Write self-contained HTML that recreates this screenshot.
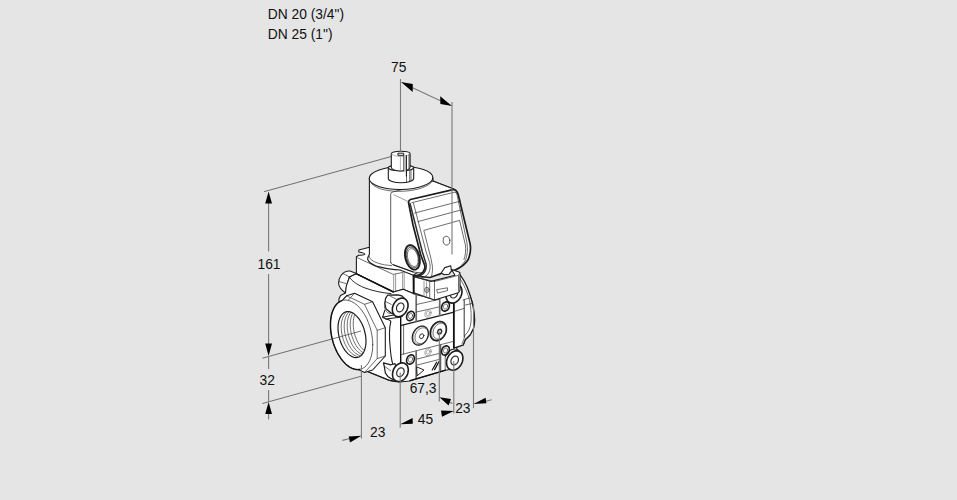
<!DOCTYPE html>
<html><head><meta charset="utf-8"><title>DN 20 / DN 25</title>
<style>
html,body{margin:0;padding:0;background:#e5e5e5;overflow:hidden}
svg{display:block}
text{font-family:"Liberation Sans",Arial,sans-serif;font-size:13.8px;fill:#111}
.d{stroke:#7a7a7a;stroke-width:1.1;fill:none}
.e{stroke:#3a3a3a;stroke-width:.7;fill:none}
.a{fill:#000;stroke:none}
#valve path,#valve ellipse{stroke-linejoin:round;stroke-linecap:round}
.k{fill:#fff;stroke:#1c1c1c;stroke-width:1.1}
.k2{fill:none;stroke:#1c1c1c;stroke-width:1.1}
.nf{fill:none;stroke:#2e2e2e;stroke-width:.7}
.gf{fill:none;stroke:#909090;stroke-width:.9}
.g2{fill:none;stroke:#6a6a6a;stroke-width:1.7}
.tf{fill:none;stroke:#111;stroke-width:1.4}
</style></head><body>
<svg width="957" height="500" viewBox="0 0 957 500">
<rect width="957" height="500" fill="#e5e5e5"/>
<text x="267.8" y="18.9">DN 20 (3/4")</text>
<text x="267.8" y="38.7">DN 25 (1")</text>
<g id="dimsback">
<path class="e" d="M264 191.7L391.6 156.4M262.4 403.5L362 376"/>
</g>
<g id="valve">
<path class="k" d="M358.8 250L369.4 247.2 L413 262 L413.3 293.6 L403.2 289.2 L393.4 292 L356.4 273.8 V256.8 L358.8 255.2 L360.4 255.2 C363 255 364.8 254.8 364.8 254.2 C364.8 253.4 362.5 252.6 358.8 252Z"/>
<path class="nf" d="M357.6 257.8 L393.2 274.4 L403.2 272.4"/>
<path class="gf" d="M393.7 274.4V291.5M395.6 274V291M402.6 272.6V289.2M404.2 272.4V289.6"/>
<path class="k" d="M356.5 273.5 L350 271 C346 270.8 343 272.5 341 275.5 C339.2 278 338.4 281 338.6 283.5 C339 287 340.5 289.5 345.5 293 L349.5 277Z"/>
<path class="nf" d="M349.5 277 C347.5 281 346 287 345.5 293"/>
<path class="nf" d="M343 273.5L349.5 277M339 281.5L345.8 283.5"/>
<path class="k" d="M369.4 178 V254.4 C368.4 256 367.6 257.6 367.6 259.2 C368.4 261.4 372 264.5 377.2 266.4 C383 268 390 269.2 394.8 269.6 L400 270 L413.3 275.3 L433 262 V178Z"/>
<path class="nf" d="M369.2 256.4 C369.6 258 370 258.6 370.8 259.2 C373 261.5 378 263.6 384.4 264.8 L391.6 265.6"/>
<path class="k" style="stroke:#4a4a4a;stroke-width:0.9" d="M390.7 262.4 V194.2 Q390.6 192 393.4 191.8 L408 188 L433 181 L453.9 189 L460 200 L440 275 L413.3 272 L393.2 264.8 Q391 264.2 390.7 262.4Z"/>
<path class="k2" d="M433 181L453.9 189"/>
<path class="k2" d="M393.2 264.8L413.3 272"/>
<path class="gf" d="M394 194.9L408.5 201.7"/>
<ellipse class="k" cx="401" cy="178" rx="31.8" ry="11.5" transform="rotate(-1 401 178)"/>
<path class="nf" d="M371.5 183.6 C377 189.6 390 192 404 191.2 C418 190.4 429 186.4 432.6 181"/>
<path class="k" d="M388.3 167.8 V178.6 A12.7 4.2 0 0 0 413.7 178.6 V167.8Z"/>
<ellipse class="k" cx="401" cy="167.8" rx="12.7" ry="3"/>
<path class="nf" d="M406.5 171V181.6M409.7 171V181.2M411 170.6V180.6"/>
<path class="k" d="M391.3 153.8 V167.2 A9.4 3.8 0 0 0 410.1 167.2 V153.6 A9.4 2.4 0 0 0 391.3 153.8Z"/>
<path class="gf" style="stroke-width:0.7" d="M391.3 153.8 A9.4 2.7 0 0 0 410.1 153.6"/>
<path style="fill:#cdcdcd;stroke:none" d="M404 156.2H406.2V171H404Z"/>
<path class="gf" style="stroke-width:0.7" d="M400.4 157V170.8"/>
<path class="nf" style="stroke-width:0.8" d="M403.7 155.4V170.8M409 154.6V168.6"/>
<path class="k2" d="M406.4 155.6V176"/>
<path class="k2" style="stroke-width:1" d="M398.3 153.2H403.7V155.3H398.3Z"/>
<path class="k" style="stroke-width:1.9" d="M419.8 260.9 L419.8 259.4 L419.6 257.8 L419.3 256.2 L418.8 254.6 L418.3 253.1 L417.7 251.6 L416.9 250.3 L416.1 249 L415.2 247.9 L414.3 247 L413.4 246.3 L412.4 245.7 L411.4 245.3 L410.5 245.2 L409.6 245.2 L408.7 245.5 L407.9 246 L407.1 246.6 L406.5 247.5 L406 248.5 L405.5 249.7 L405.2 251 L405 252.4 L405 253.9 L405 255.4 L405.2 257 L405.5 258.6 L406 260.2 L406.5 261.7 L407.1 263.2 L407.9 264.5 L408.7 265.8 L409.6 266.9 L410.5 267.8 L411.4 268.5 L412.4 269.1 L413.4 269.5 L414.3 269.6 L415.2 269.6 L416.1 269.3 L416.9 268.8 L417.7 268.2 L418.3 267.3 L418.8 266.3 L419.3 265.1 L419.6 263.8 L419.8 262.4 L419.8 260.9Z"/>
<path class="nf" style="stroke-width:0.9" d="M418.9 260.5 L418.8 259.2 L418.7 257.8 L418.4 256.5 L418 255.1 L417.6 253.8 L417 252.6 L416.4 251.5 L415.7 250.4 L415 249.5 L414.2 248.7 L413.4 248.1 L412.6 247.6 L411.8 247.3 L411 247.2 L410.2 247.2 L409.5 247.4 L408.8 247.8 L408.2 248.4 L407.6 249.1 L407.2 250 L406.8 251 L406.5 252.1 L406.4 253.3 L406.3 254.5 L406.4 255.8 L406.5 257.2 L406.8 258.5 L407.2 259.9 L407.6 261.2 L408.2 262.4 L408.8 263.5 L409.5 264.6 L410.2 265.5 L411 266.3 L411.8 266.9 L412.6 267.4 L413.4 267.7 L414.2 267.8 L415 267.8 L415.7 267.6 L416.4 267.2 L417 266.6 L417.6 265.9 L418 265 L418.4 264 L418.7 262.9 L418.8 261.7 L418.9 260.5Z"/>
<path class="nf" d="M418.2 260.2 L418.2 259 L418 257.9 L417.8 256.7 L417.5 255.6 L417.1 254.4 L416.6 253.4 L416.1 252.4 L415.5 251.5 L414.9 250.7 L414.2 250 L413.5 249.5 L412.8 249.1 L412.1 248.8 L411.4 248.7 L410.7 248.8 L410.1 249 L409.5 249.3 L409 249.8 L408.5 250.4 L408.1 251.1 L407.8 252 L407.6 252.9 L407.4 254 L407.4 255.1 L407.4 256.2 L407.6 257.3 L407.8 258.5 L408.1 259.6 L408.5 260.8 L409 261.8 L409.5 262.8 L410.1 263.7 L410.7 264.5 L411.4 265.2 L412.1 265.7 L412.8 266.1 L413.5 266.4 L414.2 266.5 L414.9 266.4 L415.5 266.2 L416.1 265.9 L416.6 265.4 L417.1 264.8 L417.5 264.1 L417.8 263.2 L418 262.3 L418.2 261.2 L418.2 260.2Z"/>
<path class="k" style="stroke-width:1.7" d="M408.5 202.5 Q408.6 200.2 410.4 199.5 L453 189.7 Q456.6 189.2 458.3 195 L469.9 243 C471.3 249 470.5 254 468.1 259.8 C465.5 264 461 267.5 455 270 L441 273.5 L430 277.5 L420 276.5 L413.6 276 C418 275.8 422 273.5 423.2 271.8 C425.2 268.5 425.2 266 424.4 264.6 L420.8 255 L413 225Z"/>
<path class="nf" style="stroke-width:1.5" d="M410 203.4 L422.4 252 L425.8 263 C426.8 267 425.8 271 422.8 274 C420.8 275.8 418.6 276.4 416.6 276.6"/>
<path class="nf" d="M411.7 202.7 L454.5 192.2 Q456.4 192.2 457 194.5 L467 243 C468 250 467.2 255 465.7 259.8 C464.5 262 463 264 461.5 265.2"/>
<path class="nf" d="M413.4 203 L426.2 252 L429.6 262.5 C430.8 267 430.2 271.5 427.6 274.5 C425.6 276.5 423.6 277.4 421.6 277.6"/>
<path class="nf" d="M414.8 213L458.6 201.6M418 221.6L460.8 210"/>
<path class="nf" d="M431.5 276.5 C432.6 272 432.8 268 432.2 265 L431 258.6 L423.8 230.4 L459.6 220.4 L465.4 245 C466 250 465.6 255 464 259.5"/>
<ellipse class="nf" cx="446.5" cy="240.6" rx="3.4" ry="4.5" transform="rotate(-8 446.5 240.6)"/>
<path class="k" d="M441.2 273 L444.8 267.6 L450.8 265.8 L451.4 271.2 L449 274.2 L444.2 274.8Z"/>
<path class="k" d="M345.5 293 L346.3 286 L349.5 277 L356.4 273.8 L393.4 292 L403.2 289.2 L413.3 293.6 L435.4 299.6 L459 291.5 L459.3 279.4 L466.9 287.6 L472.6 303 L474.6 320 L471.9 331.4 L470 335 L465.2 339.8 L463.2 345 L456.4 347.4 L458 352 L462 361 L458 368 L445.5 370.2 L409.6 381 L400 382 L389.6 380.4 L365.6 370.8 L352 368 L340 330 L338.9 299 L340.5 295.5Z"/>
<path class="k" style="stroke-width:1.3" d="M453.6 300 L456 271 C461 275 466 282 470 295 C472.6 303 474.6 312 474.6 320 C474.6 326 473.5 329.5 471.9 331.4 C471 333.5 470.5 334.5 470 335 L465.2 339.8 L463.2 345 L453.6 348Z"/>
<path class="nf" d="M459.5 278 C462 281 466 289 469 298 C470.6 304 471.6 314 471 322 C470.4 328 468.5 332 465 335.2 C464 339 463 342 461.8 344"/>
<path class="k2" style="stroke-width:0.9" d="M464.2 300V337"/>
<path class="nf" d="M463 300L469.5 298M465.5 305L472 303.5"/>
<path class="nf" d="M453.6 311.6L464.2 308.4"/>
<path class="k2" style="stroke-width:0.95" d="M349.5 277 C351 280.5 357 284.6 364 287.6 C373 291 383 293 391 293.6"/>
<path class="tf" d="M356.4 273.8L393.4 292"/>
<path class="k2" d="M386 319 C389 319.6 390.6 320.4 390.8 321.6 C389.2 328 389.2 338 390.2 348 C390.8 355 391.6 360 392.6 363.6"/>
<path class="k2" d="M365.6 370.8L389.6 380.4L396 381.8"/>
<path class="k" d="M333.8 309.8 L346.5 295.8 L354.6 293.2 L372.6 301.7 L385.3 327.7 L385.3 356 L372.6 370 L364.5 372.6 L346.5 364.1 L333.8 338.1Z"/>
<path class="nf" d="M346.5 295.8 L364.5 304.3 L377.2 330.3 L377.2 358.6 L364.5 372.6"/>
<path class="nf" d="M364.5 304.3 L372.6 301.7M377.2 330.3 L385.3 327.7M377.2 358.6 L385.3 356"/>
<path class="nf" d="M346.5 295.8 L333.8 309.8M333.8 309.8 L341.9 307.2M341.9 307.2 L354.6 293.2"/>
<path class="k" style="stroke-width:0.7" d="M372.7 344.8 L372.6 340.4 L372 335.8 L371.1 331.3 L369.9 326.8 L368.4 322.5 L366.6 318.3 L364.5 314.5 L362.2 311 L359.7 307.9 L357.1 305.2 L354.4 303.1 L351.6 301.5 L348.8 300.5 L346.1 300 L343.5 300.2 L341 301 L338.7 302.3 L336.6 304.2 L334.8 306.6 L333.3 309.5 L332.1 312.8 L331.2 316.5 L330.6 320.5 L330.5 324.8 L330.6 329.2 L331.2 333.8 L332.1 338.3 L333.3 342.8 L334.8 347.1 L336.6 351.3 L338.7 355.1 L341 358.6 L343.5 361.7 L346.1 364.4 L348.8 366.5 L351.6 368.1 L354.4 369.1 L357.1 369.6 L359.7 369.4 L362.2 368.6 L364.5 367.3 L366.6 365.4 L368.4 363 L369.9 360.1 L371.1 356.8 L372 353.1 L372.6 349.1 L372.7 344.8Z"/>
<path class="tf" d="M341.7 300.7 L340.7 301.1 L339.8 301.6 L339 302.1 L338.1 302.8 L337.3 303.5 L336.5 304.3 L335.8 305.2 L335.1 306.1 L334.5 307.2 L333.9 308.3 L333.3 309.5 L332.8 310.7 L332.3 312 L331.9 313.3 L331.5 314.8 L331.2 316.2 L331 317.7 L330.8 319.3 L330.6 320.9 L330.5 322.5 L330.5 324.2 L330.5 325.9 L330.5 327.6 L330.6 329.3 L330.8 331 L331 332.8 L331.3 334.6 L331.6 336.3 L332 338.1 L332.4 339.8 L332.9 341.6 L333.4 343.3 L334 345 L334.6 346.6 L335.3 348.3 L336 349.9 L336.7 351.4 L337.5 353 L338.3 354.4 L339.2 355.9 L340.1 357.2 L341 358.6 L341.9 359.8 L342.9 361 L343.9 362.1 L344.9 363.2 L345.9 364.2 L346.9 365.1 L348 365.9 L349 366.6 L350.1 367.3 L351.2 367.9 L352.2 368.4 L353.3 368.8 L354.4 369.1 L355.4 369.4 L356.5 369.5 L357.5 369.6 L358.5 369.5 L359.5 369.4"/>
<path class="k" style="stroke-width:1.2" d="M366 341.2 L365.9 338.3 L365.5 335.3 L364.9 332.3 L364.1 329.3 L363.1 326.4 L361.9 323.7 L360.5 321.2 L359 318.8 L357.3 316.8 L355.6 315.1 L353.8 313.6 L352 312.6 L350.2 311.9 L348.4 311.6 L346.7 311.7 L345 312.2 L343.5 313.1 L342.1 314.4 L340.9 316 L339.9 317.9 L339.1 320.1 L338.5 322.5 L338.1 325.2 L338 328 L338.1 330.9 L338.5 333.9 L339.1 336.9 L339.9 339.9 L340.9 342.8 L342.1 345.5 L343.5 348 L345 350.4 L346.7 352.4 L348.4 354.1 L350.2 355.6 L352 356.6 L353.8 357.3 L355.6 357.6 L357.3 357.5 L359 357 L360.5 356.1 L361.9 354.8 L363.1 353.2 L364.1 351.3 L364.9 349.1 L365.5 346.7 L365.9 344 L366 341.2Z"/>
<clipPath id="hole"><path d="M365.7 341.1 L365.6 338.2 L365.2 335.3 L364.7 332.3 L363.9 329.4 L362.9 326.6 L361.7 323.9 L360.3 321.4 L358.9 319.1 L357.2 317.1 L355.5 315.4 L353.8 314 L352 313 L350.2 312.3 L348.5 312.1 L346.8 312.2 L345.1 312.7 L343.7 313.5 L342.3 314.7 L341.1 316.3 L340.1 318.2 L339.3 320.3 L338.8 322.8 L338.4 325.4 L338.3 328.1 L338.4 331 L338.8 333.9 L339.3 336.9 L340.1 339.8 L341.1 342.6 L342.3 345.3 L343.7 347.8 L345.1 350.1 L346.8 352.1 L348.5 353.8 L350.2 355.2 L352 356.2 L353.8 356.9 L355.5 357.1 L357.2 357 L358.9 356.5 L360.3 355.7 L361.7 354.5 L362.9 352.9 L363.9 351 L364.7 348.9 L365.2 346.4 L365.6 343.8 L365.7 341.1Z"/></clipPath>
<g clip-path="url(#hole)">
<path class="nf" d="M357.6 313.2 L356.4 312.4 L355.2 311.7 L354 311.2 L352.8 310.9 L351.6 310.8 L350.4 310.8 L349.3 311 L348.2 311.4 L347.2 311.9 L346.2 312.6 L345.3 313.5 L344.5 314.5 L343.8 315.7 L343.1 317 L342.5 318.4 L342.1 320 L341.7 321.7 L341.4 323.4 L341.3 325.2 L341.2 327.1 L341.3 329.1 L341.4 331 L341.7 333 L342.1 335 L342.5 337 L343.1 339 L343.8 340.9 L344.5 342.8 L345.3 344.6 L346.2 346.3 L347.2 348 L348.2 349.5 L349.3 350.9 L350.4 352.1 L351.6 353.3 L352.8 354.2 L354 355.1 L355.2 355.7 L356.4 356.2 L357.6 356.5"/>
<path class="nf" d="M360.6 312.4 L359.4 311.6 L358.2 310.9 L357 310.4 L355.8 310.1 L354.6 309.9 L353.4 310 L352.3 310.2 L351.2 310.5 L350.2 311.1 L349.2 311.8 L348.3 312.7 L347.5 313.7 L346.8 314.9 L346.1 316.2 L345.5 317.6 L345.1 319.2 L344.7 320.8 L344.4 322.6 L344.3 324.4 L344.2 326.3 L344.3 328.2 L344.4 330.2 L344.7 332.2 L345.1 334.2 L345.5 336.2 L346.1 338.2 L346.8 340.1 L347.5 342 L348.3 343.8 L349.2 345.5 L350.2 347.1 L351.2 348.6 L352.3 350 L353.4 351.3 L354.6 352.4 L355.8 353.4 L357 354.2 L358.2 354.9 L359.4 355.4 L360.6 355.7"/>
<path class="nf" d="M363.6 311.6 L362.4 310.7 L361.2 310.1 L360 309.6 L358.8 309.3 L357.6 309.1 L356.4 309.1 L355.3 309.3 L354.2 309.7 L353.2 310.3 L352.2 311 L351.3 311.8 L350.5 312.9 L349.8 314 L349.1 315.4 L348.5 316.8 L348.1 318.3 L347.7 320 L347.4 321.8 L347.3 323.6 L347.2 325.5 L347.3 327.4 L347.4 329.4 L347.7 331.4 L348.1 333.4 L348.5 335.4 L349.1 337.4 L349.8 339.3 L350.5 341.2 L351.3 343 L352.2 344.7 L353.2 346.3 L354.2 347.8 L355.3 349.2 L356.4 350.5 L357.6 351.6 L358.8 352.6 L360 353.4 L361.2 354.1 L362.4 354.6 L363.6 354.9"/>
<path class="nf" d="M366.6 310.7 L365.4 309.9 L364.2 309.2 L363 308.8 L361.8 308.4 L360.6 308.3 L359.4 308.3 L358.3 308.5 L357.2 308.9 L356.2 309.4 L355.2 310.1 L354.3 311 L353.5 312 L352.8 313.2 L352.1 314.5 L351.5 316 L351.1 317.5 L350.7 319.2 L350.4 320.9 L350.3 322.8 L350.2 324.6 L350.3 326.6 L350.4 328.6 L350.7 330.6 L351.1 332.6 L351.5 334.6 L352.1 336.5 L352.8 338.5 L353.5 340.3 L354.3 342.1 L355.2 343.9 L356.2 345.5 L357.2 347 L358.3 348.4 L359.4 349.7 L360.6 350.8 L361.8 351.8 L363 352.6 L364.2 353.2 L365.4 353.7 L366.6 354.1"/>
<path class="nf" d="M369.6 309.9 L368.4 309.1 L367.2 308.4 L366 307.9 L364.8 307.6 L363.6 307.5 L362.4 307.5 L361.3 307.7 L360.2 308.1 L359.2 308.6 L358.2 309.3 L357.3 310.2 L356.5 311.2 L355.8 312.4 L355.1 313.7 L354.5 315.1 L354.1 316.7 L353.7 318.4 L353.4 320.1 L353.3 321.9 L353.2 323.8 L353.3 325.8 L353.4 327.7 L353.7 329.7 L354.1 331.7 L354.5 333.7 L355.1 335.7 L355.8 337.6 L356.5 339.5 L357.3 341.3 L358.2 343 L359.2 344.7 L360.2 346.2 L361.3 347.6 L362.4 348.8 L363.6 350 L364.8 350.9 L366 351.8 L367.2 352.4 L368.4 352.9 L369.6 353.2"/>
</g>
<path class="k2" d="M382.6 317.2L384.8 310.4M382.6 317.2L394.8 314.8M382.6 317.2L386 319L399.6 317.2"/>
<path class="tf" d="M400.7 317V363"/>
<path class="tf" d="M454 302.7V348"/>
<path class="k2" style="stroke-width:1.2" d="M401.4 325.3L454 312.2"/>
<path class="nf" d="M401.5 354.5L453.8 341.3"/>
<path class="nf" d="M403.6 325V354.2"/>
<path class="g2" d="M416.2 294V321.4M439.7 299.6V315.4"/>
<path class="nf" d="M416.5 304.5L438.8 299.5M416.5 312L438.8 307"/>
<path class="g2" d="M416.2 351V379M439.9 344.5V372"/>
<path class="nf" d="M417.3 359L439 353.5M417.3 365L439 359.5"/>
<path class="tf" d="M410 380.6L445.5 370.2"/>
<path class="nf" d="M445.2 355V370.2M440.8 345V371"/>
<path class="nf" style="stroke-width:0.95;stroke:#1c1c1c" d="M417 367L424 370L417.4 375.6Z"/>
<path class="tf" style="stroke-width:1.2" d="M432.2 370L436.6 362.2M434.6 369.6L439 361.6"/>
<path class="k" style="stroke-width:1.2" d="M428.4 333.4 L428.3 332.2 L428.1 331 L427.8 330 L427.3 329 L426.7 328.2 L426 327.4 L425.2 326.9 L424.3 326.4 L423.4 326.2 L422.4 326 L421.4 326.1 L420.3 326.3 L419.2 326.7 L418.2 327.2 L417.2 327.9 L416.3 328.7 L415.4 329.6 L414.6 330.6 L413.9 331.7 L413.3 332.9 L412.8 334.1 L412.5 335.3 L412.3 336.6 L412.2 337.8 L412.3 339 L412.5 340.2 L412.8 341.2 L413.3 342.2 L413.9 343 L414.6 343.8 L415.4 344.3 L416.3 344.8 L417.2 345 L418.2 345.2 L419.2 345.1 L420.3 344.9 L421.4 344.5 L422.4 344 L423.4 343.3 L424.3 342.5 L425.2 341.6 L426 340.6 L426.7 339.5 L427.3 338.3 L427.8 337.1 L428.1 335.9 L428.3 334.6 L428.4 333.4Z"/>
<path class="nf" style="stroke-width:0.5" d="M419.5 327.3 L418.5 327.9 L417.5 328.6 L416.6 329.5 L415.7 330.4 L415 331.5 L414.4 332.7 L413.9 333.9 L413.5 335.1 L413.3 336.4 L413.2 337.6 L413.3 338.8 L413.5 339.9 L413.9 340.9 L414.4 341.9 L415 342.7 L415.7 343.4 L416.6 343.9 L417.5 344.2 L418.5 344.4 L419.5 344.4"/>
<path class="nf" d="M428.4 333.9 L428.3 332.9 L428.2 331.9 L427.9 331 L427.5 330.2 L427 329.5 L426.4 328.9 L425.8 328.5 L425 328.1 L424.3 327.9 L423.4 327.8 L422.6 327.8 L421.7 328 L420.8 328.3 L420 328.7 L419.1 329.3 L418.4 330 L417.6 330.7 L417 331.6 L416.4 332.5 L415.9 333.5 L415.5 334.5 L415.2 335.5 L415.1 336.5 L415 337.5 L415.1 338.5 L415.2 339.5 L415.5 340.4 L415.9 341.2 L416.4 341.9 L417 342.5 L417.6 342.9 L418.4 343.3 L419.1 343.5 L420 343.6 L420.8 343.6 L421.7 343.4 L422.6 343.1 L423.4 342.7 L424.3 342.1 L425 341.4 L425.8 340.7 L426.4 339.8 L427 338.9 L427.5 337.9 L427.9 336.9 L428.2 335.9 L428.3 334.9 L428.4 333.9Z"/>
<path class="nf" style="stroke-width:1.0" d="M423.8 335.6 L422.7 333.7 L420.5 334.3 L419.4 336.8 L420.5 338.7 L422.7 338.1 L423.8 335.6Z"/>
<path class="k" style="stroke-width:1.6" d="M446.4 328.9 L446.3 327.7 L446.1 326.5 L445.8 325.5 L445.3 324.5 L444.7 323.7 L444 322.9 L443.2 322.4 L442.3 321.9 L441.4 321.7 L440.4 321.5 L439.4 321.6 L438.3 321.8 L437.2 322.2 L436.2 322.7 L435.2 323.4 L434.3 324.2 L433.4 325.1 L432.6 326.1 L431.9 327.2 L431.3 328.4 L430.8 329.6 L430.5 330.8 L430.3 332.1 L430.2 333.3 L430.3 334.5 L430.5 335.7 L430.8 336.7 L431.3 337.7 L431.9 338.5 L432.6 339.3 L433.4 339.8 L434.3 340.3 L435.2 340.5 L436.2 340.7 L437.2 340.6 L438.3 340.4 L439.4 340 L440.4 339.5 L441.4 338.8 L442.3 338 L443.2 337.1 L444 336.1 L444.7 335 L445.3 333.8 L445.8 332.6 L446.1 331.4 L446.3 330.1 L446.4 328.9Z"/>
<path class="nf" style="stroke-width:0.5" d="M437.5 322.8 L436.5 323.4 L435.5 324.1 L434.6 325 L433.7 325.9 L433 327 L432.4 328.2 L431.9 329.4 L431.5 330.6 L431.3 331.9 L431.2 333.1 L431.3 334.3 L431.5 335.4 L431.9 336.4 L432.4 337.4 L433 338.2 L433.7 338.9 L434.6 339.4 L435.5 339.7 L436.5 339.9 L437.5 339.9"/>
<path class="nf" d="M446.4 329.4 L446.3 328.4 L446.2 327.4 L445.9 326.5 L445.5 325.7 L445 325 L444.4 324.4 L443.8 324 L443 323.6 L442.3 323.4 L441.4 323.3 L440.6 323.3 L439.7 323.5 L438.8 323.8 L438 324.2 L437.1 324.8 L436.4 325.5 L435.6 326.2 L435 327.1 L434.4 328 L433.9 329 L433.5 330 L433.2 331 L433.1 332 L433 333 L433.1 334 L433.2 335 L433.5 335.9 L433.9 336.7 L434.4 337.4 L435 338 L435.6 338.4 L436.4 338.8 L437.1 339 L438 339.1 L438.8 339.1 L439.7 338.9 L440.6 338.6 L441.4 338.2 L442.3 337.6 L443 336.9 L443.8 336.2 L444.4 335.3 L445 334.4 L445.5 333.4 L445.9 332.4 L446.2 331.4 L446.3 330.4 L446.4 329.4Z"/>
<path class="nf" style="stroke-width:1.4" d="M441.8 331.1 L440.7 329.2 L438.5 329.8 L437.4 332.3 L438.5 334.2 L440.7 333.6 L441.8 331.1Z"/>
<path class="k" style="stroke-width:1.6" d="M414.4 314.9 L414.4 314.3 L414.3 313.8 L414.1 313.3 L413.9 312.8 L413.6 312.4 L413.3 312.1 L412.9 311.8 L412.5 311.6 L412 311.4 L411.5 311.4 L411 311.4 L410.5 311.5 L410 311.7 L409.5 311.9 L409 312.3 L408.5 312.6 L408.1 313.1 L407.7 313.6 L407.4 314.1 L407.1 314.7 L406.9 315.3 L406.7 315.9 L406.6 316.5 L406.6 317.1 L406.6 317.7 L406.7 318.2 L406.9 318.7 L407.1 319.2 L407.4 319.6 L407.7 319.9 L408.1 320.2 L408.5 320.4 L409 320.6 L409.5 320.6 L410 320.6 L410.5 320.5 L411 320.3 L411.5 320.1 L412 319.7 L412.5 319.4 L412.9 318.9 L413.3 318.4 L413.6 317.9 L413.9 317.3 L414.1 316.7 L414.3 316.1 L414.4 315.5 L414.4 314.9Z"/>
<path class="nf" d="M412.6 315.4 L412.6 315.1 L412.5 314.8 L412.4 314.5 L412.3 314.3 L412.2 314.1 L412 313.9 L411.8 313.7 L411.5 313.6 L411.3 313.6 L411 313.5 L410.8 313.5 L410.5 313.6 L410.2 313.7 L410 313.8 L409.7 314 L409.5 314.2 L409.2 314.4 L409 314.7 L408.8 315 L408.7 315.3 L408.6 315.6 L408.5 315.9 L408.4 316.3 L408.4 316.6 L408.4 316.9 L408.5 317.2 L408.6 317.5 L408.7 317.7 L408.8 317.9 L409 318.1 L409.2 318.3 L409.5 318.4 L409.7 318.4 L410 318.5 L410.2 318.5 L410.5 318.4 L410.8 318.3 L411 318.2 L411.3 318 L411.5 317.8 L411.8 317.6 L412 317.3 L412.2 317 L412.3 316.7 L412.4 316.4 L412.5 316.1 L412.6 315.7 L412.6 315.4Z"/>
<path class="gf" d="M431.1 312.6 L431.1 312.2 L431 311.7 L430.9 311.3 L430.7 311 L430.5 310.6 L430.2 310.3 L429.9 310.1 L429.6 310 L429.2 309.8 L428.8 309.8 L428.4 309.8 L428 309.9 L427.6 310 L427.2 310.2 L426.8 310.5 L426.4 310.8 L426.1 311.2 L425.8 311.6 L425.5 312 L425.3 312.4 L425.1 312.9 L425 313.4 L424.9 313.9 L424.9 314.4 L424.9 314.8 L425 315.3 L425.1 315.7 L425.3 316 L425.5 316.4 L425.8 316.7 L426.1 316.9 L426.4 317 L426.8 317.2 L427.2 317.2 L427.6 317.2 L428 317.1 L428.4 317 L428.8 316.8 L429.2 316.5 L429.6 316.2 L429.9 315.8 L430.2 315.4 L430.5 315 L430.7 314.6 L430.9 314.1 L431 313.6 L431.1 313.1 L431.1 312.6Z"/>
<path class="gf" d="M429.7 313 L429.7 312.8 L429.7 312.5 L429.6 312.3 L429.5 312.1 L429.4 311.9 L429.2 311.7 L429.1 311.6 L428.9 311.5 L428.7 311.5 L428.5 311.4 L428.2 311.5 L428 311.5 L427.8 311.6 L427.5 311.7 L427.3 311.8 L427.1 312 L426.9 312.2 L426.8 312.4 L426.6 312.7 L426.5 312.9 L426.4 313.2 L426.3 313.4 L426.3 313.7 L426.3 314 L426.3 314.2 L426.3 314.5 L426.4 314.7 L426.5 314.9 L426.6 315.1 L426.8 315.3 L426.9 315.4 L427.1 315.5 L427.3 315.5 L427.5 315.6 L427.8 315.5 L428 315.5 L428.2 315.4 L428.5 315.3 L428.7 315.2 L428.9 315 L429.1 314.8 L429.2 314.6 L429.4 314.3 L429.5 314.1 L429.6 313.8 L429.7 313.6 L429.7 313.3 L429.7 313Z"/>
<path class="k" style="stroke-width:1.6" d="M449.4 305.4 L449.4 304.8 L449.3 304.3 L449.1 303.8 L448.9 303.3 L448.6 302.9 L448.3 302.6 L447.9 302.3 L447.5 302.1 L447 301.9 L446.5 301.9 L446 301.9 L445.5 302 L445 302.2 L444.5 302.4 L444 302.8 L443.5 303.1 L443.1 303.6 L442.7 304.1 L442.4 304.6 L442.1 305.2 L441.9 305.8 L441.7 306.4 L441.6 307 L441.6 307.6 L441.6 308.2 L441.7 308.7 L441.9 309.2 L442.1 309.7 L442.4 310.1 L442.7 310.4 L443.1 310.7 L443.5 310.9 L444 311.1 L444.5 311.1 L445 311.1 L445.5 311 L446 310.8 L446.5 310.6 L447 310.2 L447.5 309.9 L447.9 309.4 L448.3 308.9 L448.6 308.4 L448.9 307.8 L449.1 307.2 L449.3 306.6 L449.4 306 L449.4 305.4Z"/>
<path class="nf" d="M447.6 305.9 L447.6 305.6 L447.5 305.3 L447.4 305 L447.3 304.8 L447.2 304.6 L447 304.4 L446.8 304.2 L446.5 304.1 L446.3 304.1 L446 304 L445.8 304 L445.5 304.1 L445.2 304.2 L445 304.3 L444.7 304.5 L444.5 304.7 L444.2 304.9 L444 305.2 L443.8 305.5 L443.7 305.8 L443.6 306.1 L443.5 306.4 L443.4 306.8 L443.4 307.1 L443.4 307.4 L443.5 307.7 L443.6 308 L443.7 308.2 L443.8 308.4 L444 308.6 L444.2 308.8 L444.5 308.9 L444.7 308.9 L445 309 L445.2 309 L445.5 308.9 L445.8 308.8 L446 308.7 L446.3 308.5 L446.5 308.3 L446.8 308.1 L447 307.8 L447.2 307.5 L447.3 307.2 L447.4 306.9 L447.5 306.6 L447.6 306.2 L447.6 305.9Z"/>
<path class="k" style="stroke-width:1.6" d="M414.4 358.4 L414.4 357.8 L414.3 357.3 L414.1 356.8 L413.9 356.3 L413.6 355.9 L413.3 355.6 L412.9 355.3 L412.5 355.1 L412 354.9 L411.5 354.9 L411 354.9 L410.5 355 L410 355.2 L409.5 355.4 L409 355.8 L408.5 356.1 L408.1 356.6 L407.7 357.1 L407.4 357.6 L407.1 358.2 L406.9 358.8 L406.7 359.4 L406.6 360 L406.6 360.6 L406.6 361.2 L406.7 361.7 L406.9 362.2 L407.1 362.7 L407.4 363.1 L407.7 363.4 L408.1 363.7 L408.5 363.9 L409 364.1 L409.5 364.1 L410 364.1 L410.5 364 L411 363.8 L411.5 363.6 L412 363.2 L412.5 362.9 L412.9 362.4 L413.3 361.9 L413.6 361.4 L413.9 360.8 L414.1 360.2 L414.3 359.6 L414.4 359 L414.4 358.4Z"/>
<path class="nf" d="M412.6 358.9 L412.6 358.6 L412.5 358.3 L412.4 358 L412.3 357.8 L412.2 357.6 L412 357.4 L411.8 357.2 L411.5 357.1 L411.3 357.1 L411 357 L410.8 357 L410.5 357.1 L410.2 357.2 L410 357.3 L409.7 357.5 L409.5 357.7 L409.2 357.9 L409 358.2 L408.8 358.5 L408.7 358.8 L408.6 359.1 L408.5 359.4 L408.4 359.8 L408.4 360.1 L408.4 360.4 L408.5 360.7 L408.6 361 L408.7 361.2 L408.8 361.4 L409 361.6 L409.2 361.8 L409.5 361.9 L409.7 361.9 L410 362 L410.2 362 L410.5 361.9 L410.8 361.8 L411 361.7 L411.3 361.5 L411.5 361.3 L411.8 361.1 L412 360.8 L412.2 360.5 L412.3 360.2 L412.4 359.9 L412.5 359.6 L412.6 359.2 L412.6 358.9Z"/>
<path class="gf" d="M431.1 351.1 L431.1 350.7 L431 350.2 L430.9 349.8 L430.7 349.5 L430.5 349.1 L430.2 348.8 L429.9 348.6 L429.6 348.5 L429.2 348.3 L428.8 348.3 L428.4 348.3 L428 348.4 L427.6 348.5 L427.2 348.7 L426.8 349 L426.4 349.3 L426.1 349.7 L425.8 350.1 L425.5 350.5 L425.3 350.9 L425.1 351.4 L425 351.9 L424.9 352.4 L424.9 352.9 L424.9 353.3 L425 353.8 L425.1 354.2 L425.3 354.5 L425.5 354.9 L425.8 355.2 L426.1 355.4 L426.4 355.5 L426.8 355.7 L427.2 355.7 L427.6 355.7 L428 355.6 L428.4 355.5 L428.8 355.3 L429.2 355 L429.6 354.7 L429.9 354.3 L430.2 353.9 L430.5 353.5 L430.7 353.1 L430.9 352.6 L431 352.1 L431.1 351.6 L431.1 351.1Z"/>
<path class="gf" d="M429.7 351.5 L429.7 351.3 L429.7 351 L429.6 350.8 L429.5 350.6 L429.4 350.4 L429.2 350.2 L429.1 350.1 L428.9 350 L428.7 350 L428.5 349.9 L428.2 350 L428 350 L427.8 350.1 L427.5 350.2 L427.3 350.3 L427.1 350.5 L426.9 350.7 L426.8 350.9 L426.6 351.2 L426.5 351.4 L426.4 351.7 L426.3 351.9 L426.3 352.2 L426.3 352.5 L426.3 352.7 L426.3 353 L426.4 353.2 L426.5 353.4 L426.6 353.6 L426.8 353.8 L426.9 353.9 L427.1 354 L427.3 354 L427.5 354.1 L427.8 354 L428 354 L428.2 353.9 L428.5 353.8 L428.7 353.7 L428.9 353.5 L429.1 353.3 L429.2 353.1 L429.4 352.8 L429.5 352.6 L429.6 352.3 L429.7 352.1 L429.7 351.8 L429.7 351.5Z"/>
<path class="k" style="stroke-width:1.6" d="M449.4 349.4 L449.4 348.8 L449.3 348.3 L449.1 347.8 L448.9 347.3 L448.6 346.9 L448.3 346.6 L447.9 346.3 L447.5 346.1 L447 345.9 L446.5 345.9 L446 345.9 L445.5 346 L445 346.2 L444.5 346.4 L444 346.8 L443.5 347.1 L443.1 347.6 L442.7 348.1 L442.4 348.6 L442.1 349.2 L441.9 349.8 L441.7 350.4 L441.6 351 L441.6 351.6 L441.6 352.2 L441.7 352.7 L441.9 353.2 L442.1 353.7 L442.4 354.1 L442.7 354.4 L443.1 354.7 L443.5 354.9 L444 355.1 L444.5 355.1 L445 355.1 L445.5 355 L446 354.8 L446.5 354.6 L447 354.2 L447.5 353.9 L447.9 353.4 L448.3 352.9 L448.6 352.4 L448.9 351.8 L449.1 351.2 L449.3 350.6 L449.4 350 L449.4 349.4Z"/>
<path class="nf" d="M447.6 349.9 L447.6 349.6 L447.5 349.3 L447.4 349 L447.3 348.8 L447.2 348.6 L447 348.4 L446.8 348.2 L446.5 348.1 L446.3 348.1 L446 348 L445.8 348 L445.5 348.1 L445.2 348.2 L445 348.3 L444.7 348.5 L444.5 348.7 L444.2 348.9 L444 349.2 L443.8 349.5 L443.7 349.8 L443.6 350.1 L443.5 350.4 L443.4 350.8 L443.4 351.1 L443.4 351.4 L443.5 351.7 L443.6 352 L443.7 352.2 L443.8 352.4 L444 352.6 L444.2 352.8 L444.5 352.9 L444.7 352.9 L445 353 L445.2 353 L445.5 352.9 L445.8 352.8 L446 352.7 L446.3 352.5 L446.5 352.3 L446.8 352.1 L447 351.8 L447.2 351.5 L447.3 351.2 L447.4 350.9 L447.5 350.6 L447.6 350.2 L447.6 349.9Z"/>
<path class="k" style="stroke-width:1.6" d="M462 291.4 L461.9 290.2 L461.7 289.1 L461.4 288 L460.9 287.1 L460.4 286.2 L459.7 285.5 L458.9 285 L458 284.5 L457.1 284.3 L456.1 284.1 L455 284.2 L454 284.4 L453 284.8 L451.9 285.3 L450.9 285.9 L450 286.7 L449.1 287.6 L448.3 288.7 L447.6 289.8 L447.1 290.9 L446.6 292.1 L446.3 293.4 L446.1 294.6 L446 295.8 L446.1 297 L446.3 298.1 L446.6 299.2 L447.1 300.1 L447.6 301 L448.3 301.7 L449.1 302.2 L450 302.7 L450.9 302.9 L451.9 303.1 L453 303 L454 302.8 L455 302.4 L456.1 301.9 L457.1 301.3 L458 300.5 L458.9 299.6 L459.7 298.5 L460.4 297.4 L460.9 296.3 L461.4 295.1 L461.7 293.8 L461.9 292.6 L462 291.4Z"/>
<path class="nf" style="stroke-width:1.2" d="M457.7 292.6 L457.7 292 L457.6 291.5 L457.5 291 L457.2 290.6 L457 290.2 L456.6 289.8 L456.3 289.6 L455.9 289.4 L455.4 289.2 L455 289.2 L454.5 289.2 L454 289.3 L453.5 289.5 L453 289.7 L452.6 290 L452.1 290.4 L451.7 290.8 L451.4 291.3 L451 291.8 L450.8 292.3 L450.5 292.9 L450.4 293.5 L450.3 294.1 L450.3 294.6 L450.3 295.2 L450.4 295.7 L450.5 296.2 L450.8 296.6 L451 297 L451.4 297.4 L451.7 297.6 L452.1 297.8 L452.6 298 L453 298 L453.5 298 L454 297.9 L454.5 297.7 L455 297.5 L455.4 297.2 L455.9 296.8 L456.3 296.4 L456.6 295.9 L457 295.4 L457.2 294.9 L457.5 294.3 L457.6 293.7 L457.7 293.1 L457.7 292.6Z"/>
<path class="k" style="stroke-width:1.2" d="M404.4 298.4 L401.7 295.8 L398 294.8 L387.6 295.2 L385.6 298.4 L384.8 303.2 L386 308.8 L390.8 312.8 L395.6 315.6 L402.2 316.4Z"/>
<path class="nf" d="M386.4 302 L391.2 304.4M390 296 L396.4 299.2"/>
<path class="nf" d="M385.7 301.3 L385.2 302.4 L384.9 303.6 L384.7 304.7 L384.6 305.9 L384.6 307 L384.8 308.1 L385 309.1 L385.4 310 L385.9 310.9 L386.5 311.6 L387.1 312.2 L387.9 312.7 L388.7 313.1 L389.6 313.4 L390.5 313.5 L391.5 313.4 L392.5 313.2 L393.4 312.9 L394.4 312.5 L395.3 311.9"/>
<path class="k" style="stroke-width:1.6" d="M408 305.2 L408 304.1 L407.8 303 L407.4 302 L407 301 L406.4 300.2 L405.7 299.5 L405 298.9 L404.1 298.5 L403.2 298.3 L402.2 298.1 L401.2 298.2 L400.2 298.4 L399.2 298.8 L398.2 299.3 L397.2 299.9 L396.3 300.7 L395.4 301.6 L394.7 302.6 L394 303.6 L393.4 304.8 L393 306 L392.6 307.2 L392.4 308.4 L392.4 309.6 L392.4 310.7 L392.6 311.8 L393 312.8 L393.4 313.8 L394 314.6 L394.7 315.3 L395.4 315.9 L396.3 316.3 L397.2 316.5 L398.2 316.7 L399.2 316.6 L400.2 316.4 L401.2 316 L402.2 315.5 L403.2 314.9 L404.1 314.1 L405 313.2 L405.7 312.2 L406.4 311.2 L407 310 L407.4 308.8 L407.8 307.6 L408 306.4 L408 305.2Z"/>
<path class="nf" style="stroke-width:1.2" d="M403.9 306.4 L403.9 305.8 L403.8 305.3 L403.7 304.8 L403.4 304.4 L403.2 304 L402.8 303.6 L402.5 303.4 L402.1 303.2 L401.6 303 L401.2 303 L400.7 303 L400.2 303.1 L399.7 303.3 L399.2 303.5 L398.8 303.8 L398.3 304.2 L397.9 304.6 L397.6 305.1 L397.2 305.6 L397 306.1 L396.7 306.7 L396.6 307.3 L396.5 307.9 L396.5 308.4 L396.5 309 L396.6 309.5 L396.7 310 L397 310.4 L397.2 310.8 L397.6 311.2 L397.9 311.4 L398.3 311.6 L398.8 311.8 L399.2 311.8 L399.7 311.8 L400.2 311.7 L400.7 311.5 L401.2 311.3 L401.6 311 L402.1 310.6 L402.5 310.2 L402.8 309.7 L403.2 309.2 L403.4 308.7 L403.7 308.1 L403.8 307.5 L403.9 306.9 L403.9 306.4Z"/>
<path class="k" style="stroke-width:1.2" d="M395 363.6 L391 364.8 L383.4 362.8 L384.2 366 L385.4 373.2 L387.8 376.4 L392.2 379.2 L400.4 381.6Z"/>
<path class="k" style="stroke-width:1.6" d="M408.3 370 L408.2 368.8 L408 367.7 L407.7 366.7 L407.3 365.8 L406.7 364.9 L406 364.2 L405.2 363.7 L404.4 363.2 L403.4 363 L402.4 362.8 L401.4 362.9 L400.4 363.1 L399.4 363.5 L398.4 364 L397.4 364.6 L396.4 365.4 L395.6 366.3 L394.8 367.3 L394.1 368.4 L393.5 369.5 L393.1 370.7 L392.8 372 L392.6 373.2 L392.5 374.4 L392.6 375.6 L392.8 376.7 L393.1 377.7 L393.5 378.6 L394.1 379.5 L394.8 380.2 L395.6 380.7 L396.4 381.2 L397.4 381.4 L398.4 381.6 L399.4 381.5 L400.4 381.3 L401.4 380.9 L402.4 380.4 L403.4 379.8 L404.4 379 L405.2 378.1 L406 377.1 L406.7 376 L407.3 374.9 L407.7 373.7 L408 372.4 L408.2 371.2 L408.3 370Z"/>
<path class="nf" style="stroke-width:1.2" d="M404.1 371.2 L404.1 370.6 L404 370.1 L403.9 369.6 L403.6 369.2 L403.4 368.8 L403 368.4 L402.7 368.2 L402.3 368 L401.8 367.8 L401.4 367.8 L400.9 367.8 L400.4 367.9 L399.9 368.1 L399.4 368.3 L399 368.6 L398.5 369 L398.1 369.4 L397.8 369.9 L397.4 370.4 L397.2 370.9 L396.9 371.5 L396.8 372.1 L396.7 372.7 L396.7 373.2 L396.7 373.8 L396.8 374.3 L396.9 374.8 L397.2 375.2 L397.4 375.6 L397.8 376 L398.1 376.2 L398.5 376.4 L399 376.6 L399.4 376.6 L399.9 376.6 L400.4 376.5 L400.9 376.3 L401.4 376.1 L401.8 375.8 L402.3 375.4 L402.7 375 L403 374.5 L403.4 374 L403.6 373.5 L403.9 372.9 L404 372.3 L404.1 371.7 L404.1 371.2Z"/>
<path class="nf" d="M384.2 366L390.6 370.8"/>
<path class="k2" d="M445.6 356.4 C447 352 451 349 454.5 349 C456.5 349 458 349.6 459 350.6"/>
<path class="k" style="stroke-width:1.6" d="M462.9 358.2 L462.8 357 L462.6 355.9 L462.3 354.8 L461.8 353.8 L461.2 353 L460.5 352.3 L459.7 351.7 L458.8 351.2 L457.8 351 L456.8 350.8 L455.8 350.9 L454.7 351.1 L453.6 351.5 L452.6 352 L451.6 352.7 L450.6 353.5 L449.7 354.4 L448.9 355.4 L448.2 356.6 L447.6 357.8 L447.1 359 L446.8 360.2 L446.6 361.5 L446.5 362.8 L446.6 364 L446.8 365.1 L447.1 366.2 L447.6 367.2 L448.2 368 L448.9 368.7 L449.7 369.3 L450.6 369.8 L451.6 370 L452.6 370.2 L453.6 370.1 L454.7 369.9 L455.8 369.5 L456.8 369 L457.8 368.3 L458.8 367.5 L459.7 366.6 L460.5 365.6 L461.2 364.4 L461.8 363.2 L462.3 362 L462.6 360.8 L462.8 359.5 L462.9 358.2Z"/>
<path class="nf" style="stroke-width:1.2" d="M458.4 359.5 L458.4 358.9 L458.3 358.4 L458.2 357.9 L457.9 357.5 L457.7 357.1 L457.3 356.7 L457 356.5 L456.6 356.3 L456.1 356.1 L455.7 356.1 L455.2 356.1 L454.7 356.2 L454.2 356.4 L453.7 356.6 L453.3 356.9 L452.8 357.3 L452.4 357.7 L452.1 358.2 L451.7 358.7 L451.5 359.2 L451.2 359.8 L451.1 360.4 L451 361 L451 361.5 L451 362.1 L451.1 362.6 L451.2 363.1 L451.5 363.5 L451.7 363.9 L452.1 364.3 L452.4 364.5 L452.8 364.7 L453.3 364.9 L453.7 364.9 L454.2 364.9 L454.7 364.8 L455.2 364.6 L455.7 364.4 L456.1 364.1 L456.6 363.7 L457 363.3 L457.3 362.8 L457.7 362.3 L457.9 361.8 L458.2 361.2 L458.3 360.6 L458.4 360 L458.4 359.5Z"/>
<path class="k" d="M413.8 276.5 L431 281.4 L455 275.2 L451.5 269.5 L459 272 Q460 272.6 460 274 V290 Q459.8 292 457.5 293 L434.5 300 L413.8 292.7Z"/>
<path class="tf" d="M413.8 276V293"/>
<path class="nf" d="M434.5 281.5V300M434.5 281.5L458 275.5 L460 272.6M458.5 275.6V291M429.7 282V297.6M414 277L434.5 281.5"/>
<path class="gf" d="M424 281V296M426.6 281.6V296.8"/>
<ellipse class="nf" cx="426.9" cy="289.9" rx="2.3" ry="2.6"/>
<ellipse class="gf" cx="426.9" cy="289.9" rx="1.1" ry="1.3"/>
<path class="nf" d="M437 289.6 L447.5 287.8 V290.6 L438 293Z"/>
</g>
<g id="dims">
<text x="391" y="71.7">75</text>
<path class="d" d="M400.5 79V151.6M452 102V254.4M412 87.5L442 101.5"/>
<path class="a" d="M401 82L412.8 84L412.7 92ZM452 106L440.2 96.2L440.4 104Z"/>
<path class="e" d="M262.4 358.2L361 331"/>
<path class="d" d="M268.6 203V251.6M268.6 274V344M268.6 356V369M268.6 390V402M268.6 413V419.6"/>
<path class="a" d="M268.6 191.6L272 203.6H265.2ZM268.6 356L272 343.6H265.2ZM268.6 402L272 414H265.2Z"/>
<text x="257.5" y="268.5">161</text>
<text x="259.5" y="384.7">32</text>
<path class="d" d="M361.4 365V438.4M400.2 372.5V427.7M439.3 331.4V401.6M453.8 361V413.5M473.5 305V408.2"/>
<path class="d" d="M342.4 440.4L349 438.8M486 401.2L491.7 399.7M449 402L452.6 403.6"/>
<path class="a" d="M361.4 435.7L348.7 436.4L350 442.4ZM400.2 424.2L412.6 418L412.8 423.8ZM453.8 410.9L441 410.5L442 416.7ZM473.5 404.1L485.6 397.8L486.4 403.2ZM439.5 397.2L451 399L448.6 405.6Z"/>
<text x="370.1" y="437">23</text>
<text x="417.8" y="423.9">45</text>
<text x="455.2" y="413.1">23</text>
<text x="409.7" y="392.7">67,3</text>
</g>
</svg>
</body></html>
